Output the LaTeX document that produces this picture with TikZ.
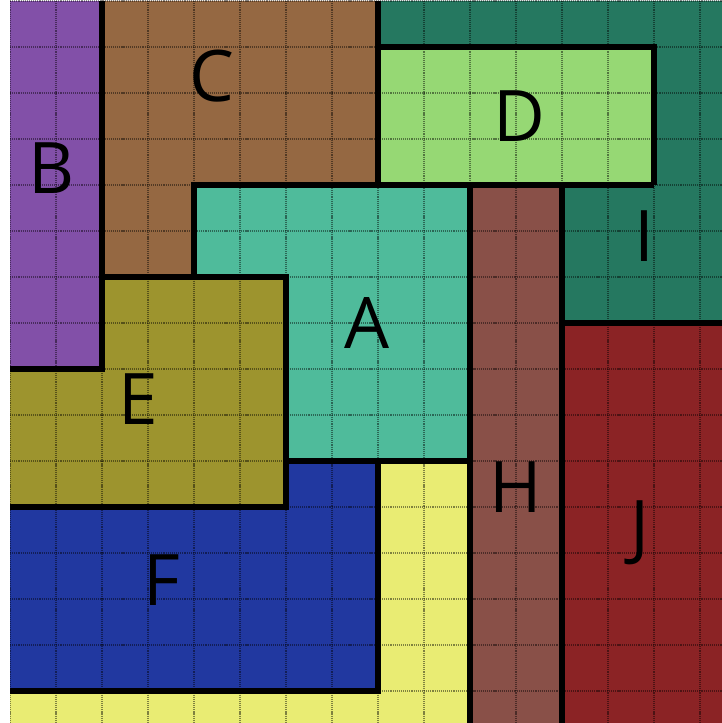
\documentclass[tikz,border=0pt]{standalone}
\usepackage{fontspec}
\setmainfont{Open Sans}
\definecolor{cB}{HTML}{8250A8}
\definecolor{cC}{HTML}{956842}
\definecolor{cI}{HTML}{257860}
\definecolor{cD}{HTML}{96D874}
\definecolor{cA}{HTML}{4FBB9B}
\definecolor{cH}{HTML}{895048}
\definecolor{cJ}{HTML}{8B2325}
\definecolor{cE}{HTML}{9D942E}
\definecolor{cF}{HTML}{2138A0}
\definecolor{cY}{HTML}{E9EC73}
\tikzset{
  gridline/.style={black, opacity=0.45, line width=0.8pt, dash pattern=on 0.7pt off 0.6pt},
  border/.style={black, line width=4pt, line cap=square, line join=miter},
  lbl/.style={inner sep=0pt, font=\fontsize{44}{44}\selectfont}
}
\begin{document}
\begin{tikzpicture}[x=1cm,y=-1cm]
\def\R{15.478}
\def\Bt{15.696}
\useasboundingbox (-0.2174,-0.0217) rectangle (15.478,15.696);
\fill[white] (-0.2174,-0.0217) rectangle (15.478,15.696);
\begin{scope}
\clip (0,0) rectangle (\R,\Bt);
% regions
\fill[cB] (0,0) rectangle (2,8);
\fill[cC] (2,0) -- (8,0) -- (8,4) -- (4,4) -- (4,6) -- (2,6) -- cycle;
\fill[cI] (8,0) -- (\R,0) -- (\R,7) -- (12,7) -- (12,4) -- (14,4) -- (14,1) -- (8,1) -- cycle;
\fill[cD] (8,1) rectangle (14,4);
\fill[cA] (4,4) -- (10,4) -- (10,10) -- (6,10) -- (6,6) -- (4,6) -- cycle;
\fill[cH] (10,4) rectangle (12,\Bt);
\fill[cJ] (12,7) rectangle (\R,\Bt);
\fill[cE] (2,6) -- (6,6) -- (6,11) -- (0,11) -- (0,8) -- (2,8) -- cycle;
\fill[cF] (0,11) -- (6,11) -- (6,10) -- (8,10) -- (8,15) -- (0,15) -- cycle;
\fill[cY] (8,10) -- (10,10) -- (10,\Bt) -- (0,\Bt) -- (0,15) -- (8,15) -- cycle;
% grid
\foreach \i in {0,...,15} {
  \draw[gridline] (\i,0) -- (\i,\Bt);
  \draw[gridline] (0,\i) -- (\R,\i);
}
% borders
\draw[border] (2,0) -- (2,8) -- (0,8);
\draw[border] (8,0) -- (8,4);
\draw[border] (8,1) -- (14,1) -- (14,4);
\draw[border] (4,6) -- (4,4) -- (14,4);
\draw[border] (10,4) -- (10,\Bt);
\draw[border] (12,4) -- (12,\Bt);
\draw[border] (12,7) -- (\R,7);
\draw[border] (2,6) -- (6,6) -- (6,11) -- (0,11);
\draw[border] (6,10) -- (10,10);
\draw[border] (8,10) -- (8,15) -- (0,15);
\end{scope}
% labels
\node[lbl] (lA) at (7.76,7.0) {A};
\node[lbl] (lB) at (0.91,3.63) {B};
\node[lbl] (lC) at (4.39,1.63) {C};
\node[lbl] (lD) at (11.07,2.5) {D};
\node[lbl] (lE) at (2.78,8.65) {E};
\node[lbl] (lF) at (3.3,12.59) {F};
\node[lbl] (lH) at (11.0,10.56) {H};
\node[lbl] (lI) at (13.8,5.12) {I};
\node[lbl] (lJ) at (13.7,11.57) {J};
\end{tikzpicture}
\end{document}
